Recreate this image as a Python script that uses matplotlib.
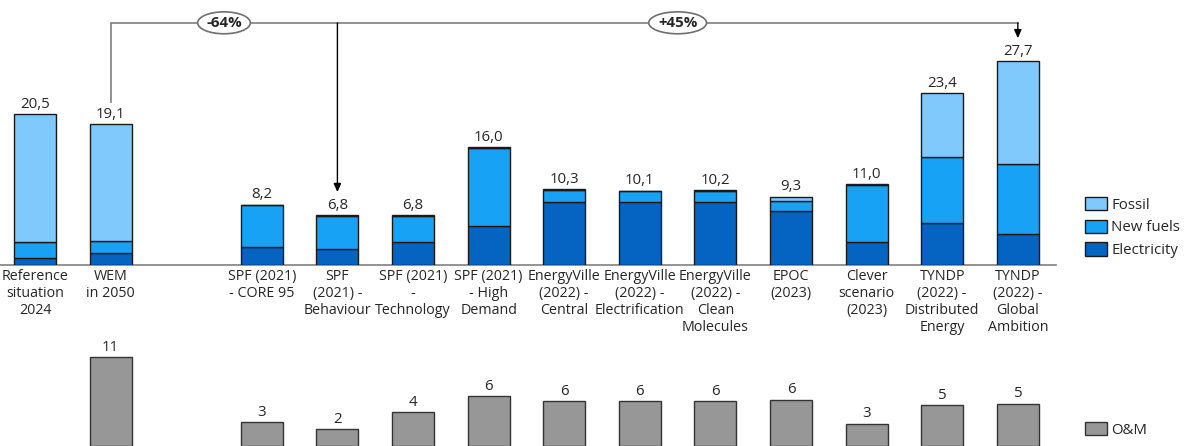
import numpy as np
import matplotlib
matplotlib.use("Agg")
import matplotlib.pyplot as plt

plt.rcParams['font.family'] = ['Open Sans', 'DejaVu Sans']

# Scenario categories (blank entry = spacer slot)
categories = [
    "Reference\nsituation\n2024",
    "WEM\nin 2050",
    "",
    "SPF (2021)\n- CORE 95",
    "SPF\n(2021) -\nBehaviour",
    "SPF (2021)\n-\nTechnology",
    "SPF (2021)\n- High\nDemand",
    "EnergyVille\n(2022) -\nCentral",
    "EnergyVille\n(2022) -\nElectrification",
    "EnergyVille\n(2022) -\nClean\nMolecules",
    "EPOC\n(2023)",
    "Clever\nscenario\n(2023)",
    "TYNDP\n(2022) -\nDistributed\nEnergy",
    "TYNDP\n(2022) -\nGlobal\nAmbition",
]

# Energy cost components (stacked, bottom to top)
electricity = [0.9, 1.6, np.nan, 2.5, 2.2, 3.1, 5.3, 8.6, 8.6, 8.5, 7.3, 3.1, 5.7, 4.2]
new_fuels   = [2.2, 1.7, np.nan, 5.6, 4.5, 3.6, 10.6, 1.6, 1.4, 1.6, 1.4, 7.8, 9.0, 9.5]
fossil      = [17.4, 15.8, np.nan, 0.1, 0.1, 0.1, 0.1, 0.1, 0.1, 0.1, 0.6, 0.1, 8.7, 14.0]

# Operation & maintenance costs
om = [np.nan, 11.1, np.nan, 3.0, 2.1, 4.2, 6.2, 5.6, 5.6, 5.6, 5.8, 2.8, 5.1, 5.3]

series_labels = ["Electricity", "New fuels", "Fossil"]
series_colors = ["#0563C1", "#17A2F5", "#80C9FD"]
om_color = "#979797"
text_color = "#262626"
fs = 10.8
fs_cat = 10.3

W, H = 1186, 446
fig = plt.figure(figsize=(W / 100, H / 100), dpi=100)

x = np.arange(len(categories))
valid = np.array([c != "" for c in categories])
xv = x[valid]
xlim = (-0.463, 13.505)
bar_w = 0.556

# ---------------- top panel: energy costs ----------------
ax = fig.add_axes([0, (H - 265) / H, 1056 / W, 265 / H])
ax.set_xlim(*xlim)
ax.set_ylim(0, 36.0)

stack = [np.array(electricity)[valid], np.array(new_fuels)[valid], np.array(fossil)[valid]]
bottom = np.zeros(len(xv))
handles = []
for vals, lab, col in zip(stack, series_labels, series_colors):
    b = ax.bar(xv, vals, bar_w, bottom=bottom, color=col, edgecolor="#1a1a1a",
               linewidth=1.0, label=lab, zorder=3)
    handles.append(b)
    bottom = bottom + vals
totals = bottom

for xi, t in zip(xv, totals):
    ax.text(xi, t + 0.3, f"{t:.1f}".replace(".", ","), ha="center", va="bottom",
            fontsize=fs, color=text_color)

for s in ["top", "right", "left"]:
    ax.spines[s].set_visible(False)
ax.spines["bottom"].set_color("#808080")
ax.spines["bottom"].set_linewidth(1.2)
ax.set_yticks([])
ax.set_xticks(xv)
ax.set_xticklabels([c for c in categories if c], fontsize=fs_cat, color=text_color,
                   linespacing=1.18)
ax.tick_params(axis="x", length=0, pad=3)

# change brackets relative to WEM in 2050
tot = dict(zip(xv, totals))
i_wem, i_low, i_high = 1, 4, 13
y_line = 32.9
gap = 3.1
ax.plot([i_wem, i_wem, i_high], [tot[i_wem] + gap, y_line, y_line],
        color="#7f7f7f", lw=1.2, clip_on=False, zorder=2, solid_joinstyle="miter")
for tgt in (i_low, i_high):
    ax.annotate("", xy=(tgt, tot[tgt] + gap), xytext=(tgt, y_line),
                arrowprops=dict(arrowstyle="-|>,head_length=0.5,head_width=0.22",
                                color="black", lw=1.0, mutation_scale=10,
                                shrinkA=0, shrinkB=0), zorder=2)

pct_low = (tot[i_low] / tot[i_wem] - 1) * 100
pct_high = (tot[i_high] / tot[i_wem] - 1) * 100
bbox = dict(boxstyle="ellipse,pad=0.05", fc="white", ec="#6f6f6f", lw=1.2)
ax.text(2.5, y_line, f"{pct_low:.0f}%", ha="center", va="center", fontsize=fs,
        fontweight="bold", color=text_color, bbox=bbox, zorder=4)
ax.text(8.5, y_line, f"+{pct_high:.0f}%", ha="center", va="center", fontsize=fs,
        fontweight="bold", color=text_color, bbox=bbox, zorder=4)

leg = ax.legend(handles=handles[::-1], loc="upper left",
                bbox_to_anchor=(1085 / W, (H - 197) / H), bbox_transform=fig.transFigure,
                frameon=False, fontsize=fs, handlelength=1.45, handleheight=1.0,
                labelspacing=0.45, handletextpad=0.3, borderpad=0, borderaxespad=0)
for t in leg.get_texts():
    t.set_color(text_color)

# ---------------- bottom panel: O&M ----------------
ax2 = fig.add_axes([0, 0, 1056 / W, 110 / H])
ax2.set_xlim(*xlim)
ax2.set_ylim(0, 110 / 8.0)
om_arr = np.array(om)
mask = ~np.isnan(om_arr)
b2 = ax2.bar(x[mask], om_arr[mask], bar_w, color=om_color, edgecolor="#333333",
             linewidth=1.0, label="O&M", zorder=3)
for xi, v in zip(x[mask], om_arr[mask]):
    ax2.text(xi, v + 0.3, f"{v:.0f}", ha="center", va="bottom", fontsize=fs,
             color=text_color)
ax2.axis("off")
leg2 = ax2.legend(handles=[b2], loc="upper left",
                  bbox_to_anchor=(1085 / W, (H - 422) / H), bbox_transform=fig.transFigure,
                  frameon=False, fontsize=fs, handlelength=1.45, handleheight=1.0,
                  handletextpad=0.3, borderpad=0, borderaxespad=0)
for t in leg2.get_texts():
    t.set_color(text_color)

fig.savefig("out.png", dpi=100)
